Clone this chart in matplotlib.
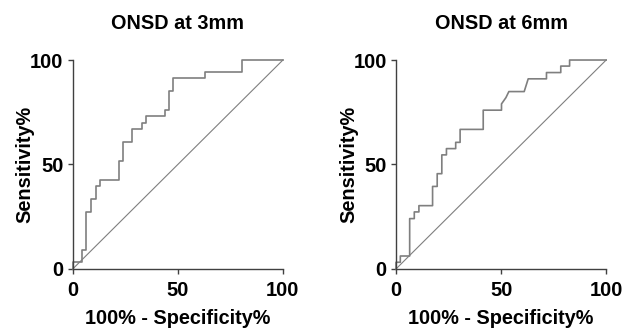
import matplotlib.pyplot as plt

plt.rcParams['font.family'] = ['Liberation Sans', 'DejaVu Sans']
plt.rcParams['font.weight'] = 'bold'

# ROC step points (100% - specificity, sensitivity)
fpr_3mm = [0, 0, 4.3, 4.3, 6.3, 6.3, 8.7, 8.7, 11.0, 11.0, 13.0, 13.0, 21.9, 21.9, 24.0, 24.0,
           28.4, 28.4, 32.9, 32.9, 34.9, 34.9, 43.7, 43.7, 45.7, 45.7, 47.9, 47.9, 63.0, 63.0,
           80.5, 80.5, 100]
sens_3mm = [0, 3.2, 3.2, 9.1, 9.1, 27.4, 27.4, 33.5, 33.5, 39.7, 39.7, 42.7, 42.7, 51.8, 51.8, 60.9,
            60.9, 66.8, 66.8, 70.0, 70.0, 73.0, 73.0, 76.0, 76.0, 85.2, 85.2, 91.2, 91.2, 94.1,
            94.1, 100, 100]

fpr_6mm = [0, 0, 2.05, 2.05, 6.5, 6.5, 8.7, 8.7, 10.9, 10.9, 17.4, 17.4, 19.6, 19.6, 21.8, 21.8,
           24.0, 24.0, 28.4, 28.4, 30.5, 30.5, 41.5, 41.5, 50.2, 50.2, 52.3, 53.7, 61.0, 62.9,
           71.6, 71.6, 78.4, 78.4, 82.6, 82.6, 100]
sens_6mm = [0, 3.2, 3.2, 6.2, 6.2, 24.1, 24.1, 27.3, 27.3, 30.3, 30.3, 39.5, 39.5, 45.6, 45.6, 54.6,
            54.6, 57.6, 57.6, 60.6, 60.6, 66.8, 66.8, 76.0, 76.0, 79.0, 82.0, 84.9, 84.9, 91.0,
            91.0, 94.0, 94.0, 97.1, 97.1, 100, 100]

panels = [('ONSD at 3mm', fpr_3mm, sens_3mm), ('ONSD at 6mm', fpr_6mm, sens_6mm)]
lefts = [0.1149, 0.6256]

fig = plt.figure(figsize=(6.33, 3.28), dpi=100)

for left, (title, fpr, sens) in zip(lefts, panels):
    ax = fig.add_axes([left, 0.18, 0.332, 0.637])
    ax.plot(fpr, sens, color='#7f7f7f', linewidth=1.2, clip_on=False)
    ax.plot([0, 100], [0, 100], color='#7f7f7f', linewidth=0.8, clip_on=False)
    ax.set_xlim(0, 100)
    ax.set_ylim(0, 100)
    ax.set_xticks([0, 50, 100])
    ax.set_yticks([0, 50, 100])
    ax.spines['top'].set_visible(False)
    ax.spines['right'].set_visible(False)
    for s in ['left', 'bottom']:
        ax.spines[s].set_color('#404040')
        ax.spines[s].set_linewidth(1.0)
    ax.tick_params(direction='out', length=3.6, width=1.0, color='#404040',
                   labelsize=14.5)
    ax.tick_params(axis='x', pad=5)
    ax.tick_params(axis='y', pad=3)
    for lab in ax.get_xticklabels() + ax.get_yticklabels():
        lab.set_fontweight('bold')
    ax.set_xlabel('100% - Specificity%', fontsize=14.3, fontweight='bold', labelpad=6.5)
    ax.set_ylabel('Sensitivity%', fontsize=14.3, fontweight='bold', va='center')
    ax.yaxis.set_label_coords(-0.226, 0.5)
    ax.set_title(title, fontsize=14.3, fontweight='bold', pad=22)

plt.savefig('out.png', dpi=100)
plt.close()
